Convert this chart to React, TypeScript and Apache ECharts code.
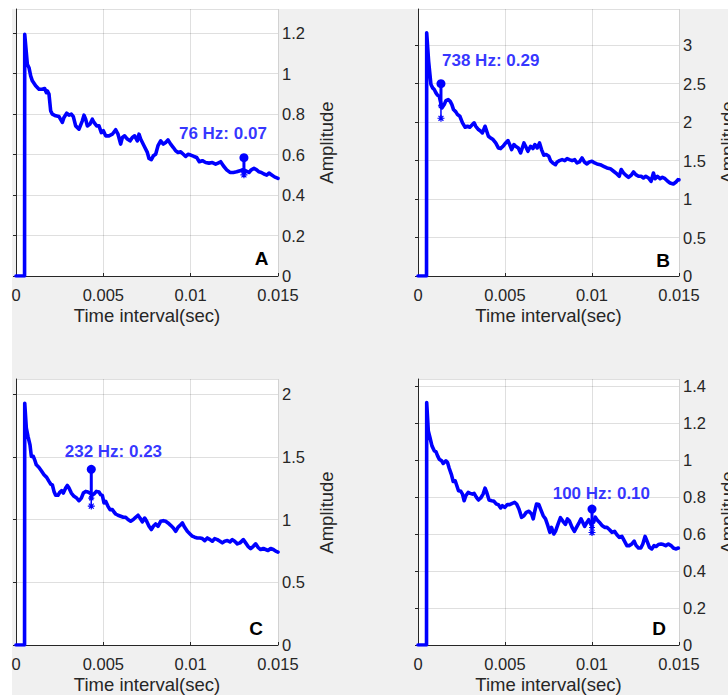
import React, { useEffect, useRef } from "react";
import * as echarts from "echarts";

// [time (ms), amplitude]
const pulseA = [
  [0, 0], [0.49, 0], [0.5, 1.195], [0.649, 1.047], [0.744, 1.03], [0.84, 0.989], [0.935, 0.965], [1.126, 0.94],
  [1.317, 0.923], [1.508, 0.923], [1.641, 0.927], [1.737, 0.907], [1.794, 0.915], [1.889, 0.899], [1.985, 0.816],
  [2.08, 0.8], [2.271, 0.792], [2.462, 0.788], [2.653, 0.759], [2.748, 0.784], [2.901, 0.805], [3.034, 0.795],
  [3.168, 0.8], [3.282, 0.788], [3.416, 0.742], [3.607, 0.726], [3.798, 0.767], [3.893, 0.795], [3.989, 0.775],
  [4.084, 0.742], [4.237, 0.751], [4.37, 0.775], [4.466, 0.759], [4.618, 0.742], [4.752, 0.742], [4.885, 0.709],
  [5.0, 0.718], [5.134, 0.693], [5.324, 0.693], [5.515, 0.701], [5.706, 0.723], [5.84, 0.701], [5.992, 0.652],
  [6.088, 0.685], [6.221, 0.693], [6.374, 0.677], [6.527, 0.668], [6.66, 0.685], [6.794, 0.693], [6.947, 0.668],
  [7.042, 0.701], [7.137, 0.677], [7.328, 0.644], [7.519, 0.611], [7.615, 0.581], [7.748, 0.575], [7.863, 0.594],
  [7.996, 0.602], [8.13, 0.644], [8.282, 0.668], [8.435, 0.652], [8.569, 0.66], [8.702, 0.673], [8.855, 0.652],
  [9.008, 0.635], [9.141, 0.619], [9.275, 0.611], [9.427, 0.614], [9.58, 0.602], [9.714, 0.591], [9.847, 0.602],
  [10.0, 0.598], [10.191, 0.591], [10.344, 0.586], [10.496, 0.565], [10.668, 0.57], [10.859, 0.561], [11.05, 0.558],
  [11.241, 0.561], [11.431, 0.553], [11.565, 0.558], [11.718, 0.565], [11.87, 0.545], [12.061, 0.525], [12.252, 0.512],
  [12.443, 0.512], [12.634, 0.515], [12.824, 0.52], [12.977, 0.525], [13.149, 0.52], [13.34, 0.512], [13.473, 0.525],
  [13.626, 0.532], [13.779, 0.525], [13.912, 0.515], [14.046, 0.512], [14.198, 0.504], [14.351, 0.499], [14.485, 0.509],
  [14.6, 0.502], [14.8, 0.49], [15.0, 0.483],
];

const pulseB = [
  [0, 0], [0.49, 0], [0.5, 3.16], [0.611, 2.79], [0.687, 2.618], [0.744, 2.488], [0.84, 2.445], [0.935, 2.423],
  [1.031, 2.38], [1.126, 2.349], [1.221, 2.336], [1.374, 2.185], [1.508, 2.228], [1.603, 2.28], [1.737, 2.293],
  [1.851, 2.27], [1.947, 2.228], [2.042, 2.163], [2.176, 2.133], [2.271, 2.098], [2.405, 2.076], [2.557, 1.99],
  [2.71, 1.933], [2.844, 1.946], [2.977, 1.933], [3.13, 1.968], [3.225, 1.99], [3.321, 1.946], [3.473, 1.903],
  [3.607, 1.881], [3.702, 1.859], [3.855, 1.946], [3.951, 1.881], [4.046, 1.816], [4.179, 1.794], [4.313, 1.773],
  [4.466, 1.729], [4.618, 1.664], [4.752, 1.656], [4.885, 1.686], [5.038, 1.729], [5.172, 1.76], [5.286, 1.699],
  [5.382, 1.643], [5.515, 1.708], [5.611, 1.686], [5.763, 1.664], [5.897, 1.599], [5.992, 1.664], [6.088, 1.729],
  [6.183, 1.686], [6.317, 1.621], [6.469, 1.686], [6.603, 1.656], [6.718, 1.708], [6.851, 1.664], [6.985, 1.729],
  [7.099, 1.643], [7.233, 1.569], [7.366, 1.578], [7.519, 1.556], [7.615, 1.499], [7.748, 1.469], [7.901, 1.447],
  [7.996, 1.482], [8.13, 1.499], [8.282, 1.512], [8.435, 1.499], [8.569, 1.525], [8.702, 1.512], [8.855, 1.499],
  [9.008, 1.512], [9.141, 1.469], [9.275, 1.482], [9.427, 1.534], [9.561, 1.482], [9.714, 1.456], [9.847, 1.482],
  [10.0, 1.491], [10.153, 1.469], [10.286, 1.456], [10.477, 1.447], [10.668, 1.426], [10.859, 1.404], [11.05, 1.395],
  [11.241, 1.361], [11.431, 1.326], [11.565, 1.296], [11.68, 1.383], [11.813, 1.339], [11.947, 1.309], [12.099, 1.283],
  [12.252, 1.309], [12.385, 1.352], [12.519, 1.317], [12.672, 1.296], [12.824, 1.296], [12.958, 1.274], [13.092, 1.296],
  [13.244, 1.274], [13.397, 1.231], [13.531, 1.339], [13.626, 1.265], [13.76, 1.296], [13.912, 1.265], [14.046, 1.283],
  [14.198, 1.265], [14.351, 1.231], [14.485, 1.209], [14.676, 1.196], [14.828, 1.222], [14.943, 1.252], [15.0, 1.25],
];

const pulseC = [
  [0, 0], [0.49, 0], [0.5, 1.927], [0.592, 1.728], [0.687, 1.662], [0.802, 1.595], [0.878, 1.503], [0.992, 1.503],
  [1.069, 1.476], [1.164, 1.436], [1.317, 1.415], [1.45, 1.389], [1.603, 1.357], [1.756, 1.336], [1.889, 1.304],
  [1.985, 1.283], [2.08, 1.277], [2.176, 1.224], [2.271, 1.193], [2.405, 1.193], [2.519, 1.219], [2.614, 1.23],
  [2.71, 1.211], [2.844, 1.251], [2.939, 1.272], [3.034, 1.251], [3.168, 1.211], [3.321, 1.185], [3.473, 1.171],
  [3.607, 1.15], [3.74, 1.171], [3.855, 1.211], [3.989, 1.224], [4.122, 1.219], [4.237, 1.211], [4.37, 1.198],
  [4.466, 1.203], [4.599, 1.224], [4.752, 1.219], [4.847, 1.198], [4.943, 1.193], [5.038, 1.132], [5.134, 1.145],
  [5.267, 1.105], [5.382, 1.079], [5.515, 1.079], [5.611, 1.06], [5.706, 1.044], [5.84, 1.034], [5.992, 1.026],
  [6.145, 1.018], [6.279, 1.018], [6.412, 1.0], [6.565, 0.986], [6.718, 1.0], [6.851, 1.018], [6.985, 1.034],
  [7.099, 1.012], [7.233, 0.981], [7.366, 1.012], [7.481, 0.986], [7.615, 0.946], [7.748, 0.92], [7.863, 0.946],
  [7.996, 0.965], [8.13, 0.946], [8.282, 0.986], [8.435, 0.991], [8.569, 0.986], [8.702, 0.973], [8.855, 0.954],
  [9.008, 0.933], [9.141, 0.906], [9.275, 0.938], [9.427, 0.959], [9.523, 0.973], [9.656, 0.938], [9.809, 0.906],
  [9.962, 0.885], [10.095, 0.867], [10.229, 0.859], [10.382, 0.853], [10.534, 0.853], [10.668, 0.848], [10.802, 0.832],
  [10.954, 0.853], [11.107, 0.84], [11.241, 0.827], [11.374, 0.848], [11.527, 0.84], [11.68, 0.827], [11.813, 0.814],
  [11.947, 0.827], [12.099, 0.832], [12.252, 0.822], [12.385, 0.84], [12.519, 0.827], [12.672, 0.806], [12.824, 0.814],
  [13.015, 0.84], [13.149, 0.814], [13.282, 0.787], [13.435, 0.769], [13.588, 0.787], [13.721, 0.806], [13.855, 0.779],
  [14.008, 0.761], [14.16, 0.769], [14.294, 0.761], [14.427, 0.753], [14.58, 0.769], [14.733, 0.761], [14.866, 0.748],
  [15.0, 0.74],
];

const pulseD = [
  [0, 0], [0.49, 0], [0.5, 1.312], [0.592, 1.159], [0.687, 1.123], [0.802, 1.078], [0.935, 1.051], [1.031, 1.047],
  [1.126, 1.024], [1.221, 1.006], [1.355, 0.997], [1.45, 0.983], [1.603, 0.997], [1.698, 0.988], [1.794, 0.957],
  [1.927, 0.921], [2.023, 0.885], [2.137, 0.889], [2.233, 0.862], [2.328, 0.835], [2.462, 0.832], [2.557, 0.817],
  [2.653, 0.781], [2.748, 0.808], [2.882, 0.826], [2.996, 0.821], [3.13, 0.817], [3.225, 0.821], [3.359, 0.799],
  [3.473, 0.785], [3.607, 0.796], [3.74, 0.817], [3.855, 0.849], [3.951, 0.826], [4.084, 0.785], [4.237, 0.781],
  [4.37, 0.778], [4.504, 0.763], [4.618, 0.76], [4.752, 0.742], [4.847, 0.754], [4.981, 0.745], [5.134, 0.76],
  [5.267, 0.76], [5.42, 0.767], [5.553, 0.772], [5.668, 0.763], [5.802, 0.736], [5.954, 0.691], [6.088, 0.7],
  [6.221, 0.718], [6.374, 0.724], [6.527, 0.709], [6.622, 0.683], [6.718, 0.727], [6.813, 0.763], [6.947, 0.76],
  [7.08, 0.727], [7.195, 0.7], [7.328, 0.683], [7.462, 0.646], [7.576, 0.61], [7.672, 0.637], [7.805, 0.601],
  [7.901, 0.615], [8.053, 0.656], [8.187, 0.689], [8.321, 0.671], [8.473, 0.653], [8.588, 0.683], [8.702, 0.671],
  [8.855, 0.637], [8.988, 0.615], [9.141, 0.642], [9.275, 0.665], [9.37, 0.683], [9.485, 0.66], [9.58, 0.642],
  [9.714, 0.665], [9.809, 0.678], [9.943, 0.653], [10.095, 0.665], [10.191, 0.692], [10.286, 0.678], [10.42, 0.665],
  [10.573, 0.647], [10.725, 0.637], [10.859, 0.637], [11.011, 0.624], [11.145, 0.61], [11.298, 0.615], [11.431, 0.597],
  [11.565, 0.583], [11.718, 0.588], [11.851, 0.565], [12.004, 0.538], [12.137, 0.538], [12.29, 0.547], [12.424, 0.562],
  [12.538, 0.538], [12.672, 0.525], [12.805, 0.525], [12.92, 0.547], [13.053, 0.588], [13.187, 0.557], [13.301, 0.529],
  [13.435, 0.52], [13.569, 0.538], [13.683, 0.533], [13.817, 0.544], [13.969, 0.547], [14.103, 0.544], [14.237, 0.538],
  [14.389, 0.547], [14.542, 0.538], [14.676, 0.525], [14.809, 0.52], [14.962, 0.525], [15.0, 0.524],
];

const pulses = [pulseA, pulseB, pulseC, pulseD];
const panelLetters = ["A", "B", "C", "D"];
const peakFreqHz = [76, 738, 232, 100];
const peakAmp = [0.07, 0.29, 0.23, 0.1];
const peakTimeSec = [0.01305, 0.00132, 0.00431, 0.01];
const peakBaseAmp = [0.515, 2.21, 1.17, 0.636];
const markerLowAmp = [0.5, 2.05, 1.107, 0.609];
const labelTimeSec = [0.00933, 0.00138, 0.00279, 0.00774];
const labelAmp = [0.706, 2.797, 1.54, 0.821];
const yMax = [1.32, 3.47, 2.12, 1.44];
const yInterval = [0.2, 0.5, 0.5, 0.2];
const xMax = 0.015;
const xInterval = 0.005;
const xTitle = "Time interval(sec)";
const yTitle = "Amplitude";

const layout = [
  { left: 16, top: 9, width: 262, height: 267, letterDx: -16.5, letterDy: -17.5 },
  { left: 418, top: 9, width: 261, height: 267, letterDx: -16, letterDy: -16 },
  { left: 16, top: 379, width: 262, height: 267, letterDx: -22, letterDy: -18 },
  { left: 418, top: 379, width: 261, height: 267, letterDx: -20, letterDy: -18 },
];
const Y_TITLE_OFFSET = 48;

const FONT = "'Liberation Sans', Arial, Helvetica, sans-serif";
const AXIS_COLOR = "#262626";
const GRID_COLOR = "rgba(38,38,38,0.15)";
const BLUE = "#0000ff";
const ASTERISK =
  "path://M5 0 L5 10 M0 5 L10 5 M1.5 1.5 L8.5 8.5 M8.5 1.5 L1.5 8.5";

function fmtNum(v: number) {
  return String(parseFloat(v.toFixed(4)));
}

function buildOption() {
  const grid: any[] = [];
  const xAxis: any[] = [];
  const yAxis: any[] = [];
  const series: any[] = [];
  const graphic: any[] = [];

  layout.forEach((g, i) => {
    grid.push({
      left: g.left,
      top: g.top,
      width: g.width,
      height: g.height,
      show: true,
      backgroundColor: "#ffffff",
      borderWidth: 0,
      containLabel: false,
    });
    xAxis.push({
      type: "value",
      gridIndex: i,
      min: 0,
      max: xMax,
      interval: xInterval,
      position: "bottom",
      axisLine: { show: true, lineStyle: { color: AXIS_COLOR, width: 1 } },
      axisTick: { show: true, inside: true, length: 3, lineStyle: { color: AXIS_COLOR } },
      splitLine: { show: true, lineStyle: { color: GRID_COLOR, width: 1 } },
      axisLabel: {
        color: AXIS_COLOR,
        fontSize: 16.5,
        lineHeight: 15,
        fontFamily: FONT,
        margin: 11,
        formatter: (v: number) => fmtNum(v),
      },
      name: xTitle,
      nameLocation: "middle",
      nameGap: 30,
      nameTextStyle: {
        color: AXIS_COLOR,
        fontSize: 18.5,
        lineHeight: 19,
        fontFamily: FONT,
        verticalAlign: "top",
      },
    });
    yAxis.push({
      type: "value",
      gridIndex: i,
      min: 0,
      max: yMax[i],
      interval: yInterval[i],
      position: "right",
      axisLine: { show: true, lineStyle: { color: AXIS_COLOR, width: 1 } },
      axisTick: { show: true, inside: true, length: 3, lineStyle: { color: AXIS_COLOR } },
      splitLine: { show: true, lineStyle: { color: GRID_COLOR, width: 1 } },
      axisLabel: {
        color: AXIS_COLOR,
        fontSize: 16.5,
        lineHeight: 13,
        fontFamily: FONT,
        margin: 4,
        showMaxLabel: false,
        formatter: (v: number) => fmtNum(v),
      },
    });

    series.push({
      type: "line",
      xAxisIndex: i,
      yAxisIndex: i,
      data: pulses[i].map((p) => [p[0] / 1000, p[1]]),
      showSymbol: false,
      symbol: "none",
      lineStyle: { color: BLUE, width: 3.6, join: "round", cap: "round" },
      z: 3,
      clip: true,
    });
    // thin trace from lower marker to base
    series.push({
      type: "line",
      xAxisIndex: i,
      yAxisIndex: i,
      data: [
        { value: [peakTimeSec[i], markerLowAmp[i]], symbol: ASTERISK, symbolSize: 7 },
        { value: [peakTimeSec[i], peakBaseAmp[i]], symbol: ASTERISK, symbolSize: 6 },
      ],
      showSymbol: true,
      itemStyle: { color: "none", borderColor: BLUE, borderWidth: 1.2 },
      lineStyle: { color: BLUE, width: 1.5 },
      z: 4,
    });
    // stem with circle marker
    series.push({
      type: "line",
      xAxisIndex: i,
      yAxisIndex: i,
      data: [
        { value: [peakTimeSec[i], peakBaseAmp[i]], symbol: "none" },
        {
          value: [peakTimeSec[i], +(peakBaseAmp[i] + peakAmp[i]).toFixed(4)],
          symbol: "circle",
          symbolSize: 9,
        },
      ],
      showSymbol: true,
      itemStyle: { color: BLUE },
      lineStyle: { color: BLUE, width: 3 },
      z: 5,
    });
    // annotation text
    series.push({
      type: "scatter",
      xAxisIndex: i,
      yAxisIndex: i,
      data: [[labelTimeSec[i], labelAmp[i]]],
      symbolSize: 0,
      itemStyle: { color: "transparent" },
      label: {
        show: true,
        position: [0, 0],
        align: "left",
        verticalAlign: "middle",
        formatter: () => `${peakFreqHz[i]} Hz: ${peakAmp[i].toFixed(2)}`,
        color: BLUE,
        fontWeight: "bold",
        fontSize: 17,
        fontFamily: FONT,
      },
      z: 6,
      silent: true,
    });

    graphic.push({
      type: "text",
      x: g.left + g.width + g.letterDx,
      y: g.top + g.height + g.letterDy,
      style: {
        text: panelLetters[i],
        fill: "#000000",
        font: `bold 19px ${FONT}`,
        textAlign: "center",
        textVerticalAlign: "middle",
      },
      z: 10,
    });
    graphic.push({
      type: "text",
      x: g.left + g.width + Y_TITLE_OFFSET,
      y: g.top + g.height / 2,
      rotation: Math.PI / 2,
      style: {
        text: yTitle,
        fill: AXIS_COLOR,
        font: `18.5px ${FONT}`,
        textAlign: "center",
        textVerticalAlign: "middle",
      },
      z: 10,
    });
  });

  return { animation: false, grid, xAxis, yAxis, series, graphic };
}

export default function App() {
  const ref = useRef<HTMLDivElement>(null);
  useEffect(() => {
    if (!ref.current) return;
    const chart = echarts.init(ref.current, undefined, { renderer: "svg" });
    chart.setOption(buildOption() as any);
    return () => chart.dispose();
  }, []);
  return (
    <div
      style={{
        position: "absolute",
        left: 0,
        top: 0,
        width: 728,
        height: 695,
        background: "#ffffff",
        overflow: "hidden",
      }}
    >
      <div
        style={{
          position: "absolute",
          left: 12,
          top: 9,
          width: 716,
          height: 686,
          background: "#f0f0f0",
        }}
      />
      <div ref={ref} style={{ position: "absolute", left: 0, top: 0, width: 728, height: 695 }} />
    </div>
  );
}
